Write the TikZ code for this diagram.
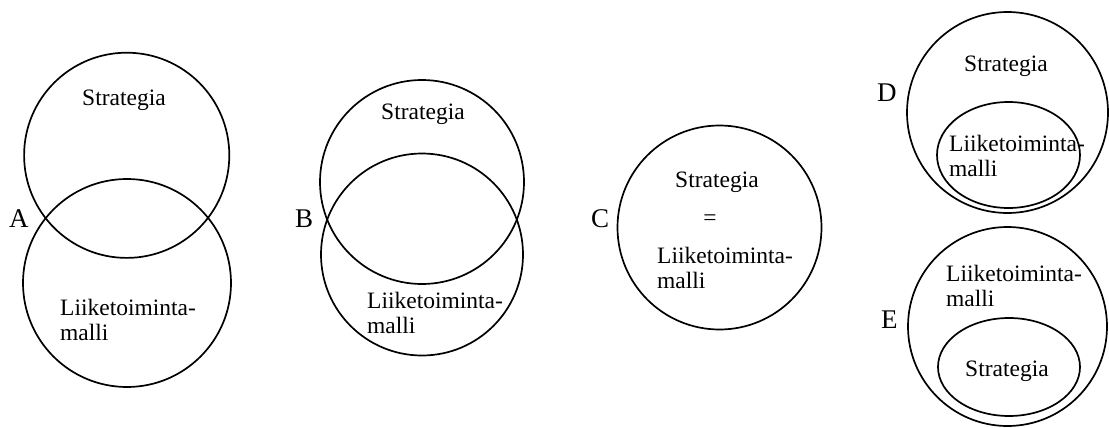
\documentclass[tikz,border=0pt]{standalone}
\usepackage{fontspec}
\setmainfont{Liberation Serif}
\begin{document}
\begin{tikzpicture}[x=1pt,y=-1pt,
  ring/.style={draw=black,line width=1.7pt},
  txt/.style={inner sep=0pt,font=\fontsize{23.5}{25}\selectfont},
  mtxt/.style={inner sep=0pt,align=left,font=\fontsize{23.5}{25}\selectfont},
  lbl/.style={inner sep=0pt,font=\fontsize{27}{30}\selectfont}]
\useasboundingbox (0,0) rectangle (1109,428);
% A
\draw[ring] (126.7,155.3) circle[radius=102.6];
\draw[ring] (127,283) circle[radius=104];
\node[txt,anchor=base] (aS) at (124,106) {Strategia};
\node[mtxt,anchor=base west] (aL) at (60,340) {Liiketoiminta-\\malli};
\node[lbl,anchor=base west] (aA) at (9,227) {A};
% B
\draw[ring] (422,182) circle[radius=102];
\draw[ring] (422,254.5) circle[radius=101];
\node[txt,anchor=base] (bS) at (423,120) {Strategia};
\node[mtxt,anchor=base west] (bL) at (367,333) {Liiketoiminta-\\malli};
\node[lbl,anchor=base west] (bB) at (295,227) {B};
% C
\draw[ring] (719.5,227.5) circle[radius=102];
\node[txt,anchor=base] (cS) at (717,187) {Strategia};
\node[txt,anchor=center] (cE) at (710,220) {=};
\node[mtxt,anchor=base west] (cL) at (657,288) {Liiketoiminta-\\malli};
\node[lbl,anchor=base west] (cC) at (591,227) {C};
% D
\draw[ring] (1007.5,112.5) circle[radius=100.5];
\draw[ring] (1008.5,155) ellipse[x radius=71.5,y radius=53];
\node[txt,anchor=base] (dS) at (1006,72) {Strategia};
\node[mtxt,anchor=base west] (dL) at (949,176) {Liiketoiminta-\\malli};
\node[lbl,anchor=base west] (dD) at (877,102) {D};
% E
\draw[ring] (1007.5,326.5) circle[radius=99.5];
\draw[ring] (1009,367) ellipse[x radius=71,y radius=49];
\node[txt,anchor=base] (eS) at (1007,376) {Strategia};
\node[mtxt,anchor=base west] (eL) at (946,306) {Liiketoiminta-\\malli};
\node[lbl,anchor=base west] (eE) at (881,328) {E};
\end{tikzpicture}
\end{document}
